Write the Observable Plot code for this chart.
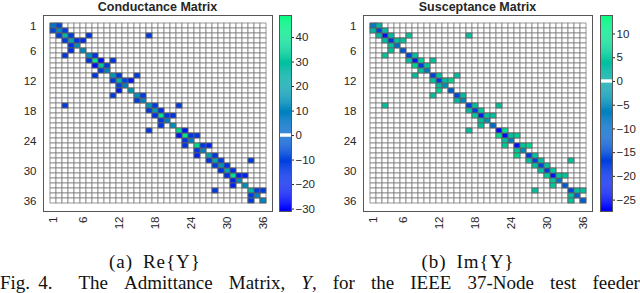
<!DOCTYPE html>
<html>
<head>
<meta charset="utf-8">
<script src="https://cdn.jsdelivr.net/npm/d3@7"></script>
<script src="https://cdn.jsdelivr.net/npm/@observablehq/plot@0.6"></script>
<style>
  html, body { margin: 0; padding: 0; background: #fff; }
  #root { position: relative; width: 640px; height: 293px; overflow: hidden; }
  .abs { position: absolute; }
  .title { font: bold 12.5px "Liberation Sans", Arial, sans-serif; color: #262626; text-align: center; line-height: 14px; white-space: nowrap; }
  .sub { font: 19px "Liberation Serif", "Times New Roman", serif; color: #111; text-align: center; line-height: 19px; white-space: nowrap; letter-spacing: 1px; word-spacing: 4px; }
  .cap { font: 19px "Liberation Serif", "Times New Roman", serif; color: #111; line-height: 19px; width: 640px; white-space: nowrap; display: flex; justify-content: space-between; }
</style>
</head>
<body>
<div id="root"></div>
<script>
// ---- data ----
const nodes = d3.range(1, 37);
const axisTicks = [1, 6, 12, 18, 24, 30, 36];
const branchFrom = [1, 2, 3, 3, 3, 4, 4, 7, 8, 8, 9, 11, 11, 12, 12, 15, 17, 17, 18, 19, 19, 22, 23, 23, 25, 25, 27, 28, 28, 29, 30, 31, 31, 34, 34];
const branchTo   = [2, 3, 4, 7, 17, 5, 6, 8, 9, 11, 10, 12, 15, 13, 14, 16, 18, 22, 19, 20, 21, 23, 24, 25, 26, 27, 28, 29, 34, 30, 31, 32, 33, 35, 36];
const gBranch = [-8, -12, -12, -14, -12, -16, -16, -14, -26, -14, -12, -12, -12, -10, -22, -12, -12, -12, -16, -14, -14, -24, -14, -14, -14, -20, -14, -12, -12, -16, -16, -20, -20, -12, -12];
const bBranch = [2, 3, 3, 5, 4, 4, 4, 4, 7, 4, 4, 4, 4, 3, 7, 3, 4, 4, 6, 4, 4, 9, 4, 6, 5, 8, 4, 4, 4, 4, 6, 5, 5, 4, 4];
const gDiag = [6, 12, 28, 22, 14, 12, 14, 42, 32, 10, 16, 26, 8, 16, 14, 10, 16, 18, 40, 8, 14, 38, 42, 8, 38, 10, 20, 22, 16, 22, 40, 12, 14, 26, 10, 10];
const bDiag = [-7.5, -16, -25, -19, -10, -13, -16, -24, -18, -8, -17, -18, -4, -12, -16, -5, -17, -18, -22, -4, -10, -26, -26, -7, -25, -5, -18, -17, -16, -18, -24, -8, -12, -16, -12, -12];
const gTicks = [40, 30, 20, 10, 0, -10, -20, -30];
const bTicks = [10, 5, 0, -5, -10, -15, -20, -25];
const gDomain = [-31, 49];
const bDomain = [-27.4, 13.9];
const gZeroBand = 0.7;
const bZeroBand = 0.35;
const titles = ["Conductance Matrix", "Susceptance Matrix"];
const subCaptions = ["(a) Re{Y}", "(b) Im{Y}"];

// ---- build ----
const winter = ["#0000ff", "#00ff80"];
const fontStyle = {fontFamily: "'Liberation Sans', Arial, sans-serif", fontSize: "11.5px", color: "#262626", background: "transparent"};

function entries(diag, branch) {
  const out = nodes.map((n, i) => ({r: n, c: n, v: diag[i]}));
  branch.forEach((v, k) => {
    out.push({r: branchFrom[k], c: branchTo[k], v});
    out.push({r: branchTo[k], c: branchFrom[k], v});
  });
  return out;
}
const allCells = d3.cross(nodes, nodes);

function matrixPlot(diag, branch, domain) {
  return Plot.plot({
    width: 276, height: 232,
    marginLeft: 43, marginRight: 4, marginTop: 15, marginBottom: 21,
    style: fontStyle,
    x: {type: "band", domain: nodes, padding: 0, ticks: axisTicks, tickRotate: -90, tickSize: 0, tickPadding: 5, label: null},
    y: {type: "band", domain: nodes, padding: 0, ticks: axisTicks, tickSize: 0, tickPadding: 7, label: null},
    color: {type: "linear", domain, range: winter, interpolate: "rgb"},
    marks: [
      Plot.cell(allCells, {x: d => d[1], y: d => d[0], fill: "white", stroke: "#808080", strokeWidth: 0.8, inset: 0}),
      Plot.cell(entries(diag, branch), {x: "c", y: "r", fill: "v", stroke: "#5f5f5f", strokeWidth: 0.8, inset: 0}),
      Plot.frame({stroke: "#555", strokeWidth: 1})
    ]
  });
}

function colorbarPlot(domain, ticks, band) {
  const step = (domain[1] - domain[0]) / 200;
  const strips = d3.range(domain[0], domain[1], step);
  return Plot.plot({
    width: 44, height: 232,
    marginLeft: 0, marginRight: 32, marginTop: 15, marginBottom: 21,
    style: fontStyle,
    x: {domain: [0, 1], axis: null},
    y: {domain, axis: "right", ticks, tickSize: 2, tickPadding: 2, label: null},
    color: {type: "linear", domain, range: winter, interpolate: "rgb"},
    marks: [
      Plot.rect(strips, {x1: 0, x2: 1, y1: d => d, y2: d => Math.min(d + step * 1.05, domain[1]), fill: d => d + step / 2}),
      Plot.rect([0], {x1: 0, x2: 1, y1: d => d - band, y2: d => d + band, fill: "white"}),
      Plot.frame({stroke: "#555"})
    ]
  });
}

const root = document.getElementById("root");
function place(el, left, top) {
  el.classList.add("abs");
  el.style.left = left + "px";
  el.style.top = top + "px";
  root.appendChild(el);
  return el;
}
function textDiv(cls, txt, left, top, width) {
  const d = document.createElement("div");
  d.className = cls;
  d.textContent = txt;
  d.style.width = width + "px";
  return place(d, left, top);
}

place(matrixPlot(gDiag, gBranch, gDomain), 0, 0);
place(colorbarPlot(gDomain, gTicks, gZeroBand), 279, 0);
place(matrixPlot(bDiag, bBranch, bDomain), 320, 0);
place(colorbarPlot(bDomain, bTicks, bZeroBand), 600, 0);

textDiv("title", titles[0], 43, 0, 229);
textDiv("title", titles[1], 363, 0, 229);
textDiv("sub", subCaptions[0], 55, 252, 200);
textDiv("sub", subCaptions[1], 368, 252, 200);

const cap = document.createElement("div");
cap.className = "cap";
cap.innerHTML = "<span>Fig.</span><span style='margin-left:-8px'>4.</span><span style='margin-left:10px'>The</span><span>Admittance</span><span>Matrix,</span><span><i>Y</i>,</span><span>for</span><span>the</span><span>IEEE</span><span>37-Node</span><span>test</span><span>feeder</span>";
place(cap, 0, 273);
</script>
</body>
</html>
